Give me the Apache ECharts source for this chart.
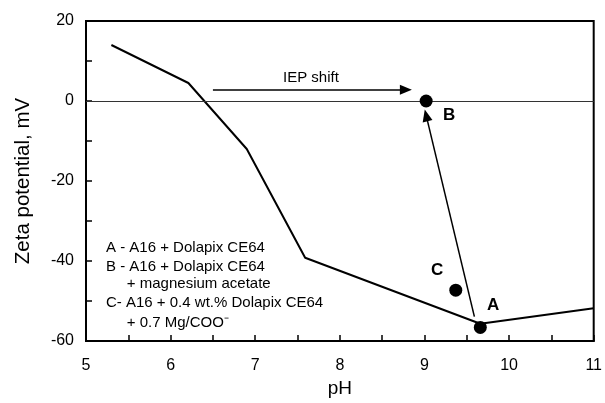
<!DOCTYPE html>
<html>
<head>
<meta charset="utf-8">
<script src="https://cdn.jsdelivr.net/npm/echarts@6/dist/echarts.min.js"></script>
<style>
  html, body { margin: 0; padding: 0; background: #fff; }
  #chart { width: 605px; height: 403px; }
</style>
</head>
<body>
<div id="chart"></div>
<script>
// curve: A16 + Dolapix CE64 vs pH
const curvePH = [5.3, 6.21, 6.9, 7.59, 9.66, 11];
const curveZeta = [14, 4.5, -12, -39.2, -55.7, -51.8];

// single measurements
const pointNames = ["A", "B", "C"];
const pointPH = [9.66, 9.02, 9.37];
const pointZeta = [-56.6, 0, -47.3];

// arrows (data units): [startPH, startZeta, endPH, endZeta]
const arrowIEP = [6.5, 2.8, 8.78, 2.8];
const arrowAB = [9.59, -53.9, 9.02, -3.6];

const legendLines = [
    "A - A16 + Dolapix CE64",
    "B - A16 + Dolapix CE64",
    "     + magnesium acetate",
    "C- A16 + 0.4 wt.% Dolapix CE64",
    "     + 0.7 Mg/COO\u207B"
];

const font = "Liberation Sans, Arial, sans-serif";
const chart = echarts.init(document.getElementById("chart"));

const axisCommon = {
    axisLine: { show: true, onZero: false, lineStyle: { color: "#000", width: 2 } },
    axisTick: { show: true, inside: true, length: 6, lineStyle: { color: "#000", width: 1.5 } },
    minorTick: { show: true, splitNumber: 2, length: 6, lineStyle: { color: "#000", width: 1.5 } },
    splitLine: { show: false },
    axisLabel: { color: "#000", fontSize: 16, fontFamily: font }
};

function arrow(a) {
    return [{ coord: [a[0], a[1]] }, { coord: [a[2], a[3]] }];
}

chart.setOption({
    animation: false,
    backgroundColor: "#fff",
    grid: { left: 86, right: 10, top: 21, bottom: 60, show: true, borderColor: "#000", borderWidth: 2 },
    xAxis: {
        ...axisCommon,
        type: "value",
        min: 5, max: 11, interval: 1,
        axisLabel: { ...axisCommon.axisLabel, margin: 17 },
        name: "pH",
        nameLocation: "middle",
        nameGap: 38,
        nameTextStyle: { color: "#000", fontSize: 19, fontFamily: font }
    },
    yAxis: {
        ...axisCommon,
        type: "value",
        min: -60, max: 20, interval: 20,
        axisLabel: { ...axisCommon.axisLabel, margin: 12 },
        name: "Zeta potential, mV",
        nameLocation: "middle",
        nameGap: 52,
        nameTextStyle: { color: "#000", fontSize: 20.5, fontFamily: font }
    },
    series: [
        {
            type: "line",
            data: curvePH.map((x, i) => [x, curveZeta[i]]),
            symbol: "none",
            lineStyle: { color: "#000", width: 2 },
            markLine: {
                silent: true,
                symbol: "none",
                label: { show: false },
                lineStyle: { color: "#333", width: 1, type: "solid" },
                data: [{ yAxis: 0 }]
            }
        },
        {
            type: "line",
            data: [],
            markLine: {
                silent: true,
                symbol: ["none", "triangle"],
                symbolSize: [10, 12],
                label: { show: false },
                lineStyle: { color: "#000", width: 1.5, type: "solid" },
                data: [arrow(arrowIEP), arrow(arrowAB)]
            }
        },
        {
            type: "scatter",
            symbol: "circle",
            symbolSize: 13,
            itemStyle: { color: "#000", opacity: 1 },
            data: pointPH.map((x, i) => [x, pointZeta[i]]),
            z: 5
        }
    ],
    graphic: [
        { type: "text", left: 283, top: 70, style: { text: "IEP shift", font: "15px " + font, fill: "#000" } },
        { type: "text", left: 443, top: 107, style: { text: pointNames[1], font: "bold 17px " + font, fill: "#000" } },
        { type: "text", left: 431, top: 262, style: { text: pointNames[2], font: "bold 17px " + font, fill: "#000" } },
        { type: "text", left: 487, top: 297, style: { text: pointNames[0], font: "bold 17px " + font, fill: "#000" } },
        ...legendLines.map((t, i) => ({
            type: "text",
            left: 106,
            top: [240, 259, 276, 295, 315][i],
            style: { text: t, font: "15px " + font, fill: "#000", whiteSpace: "pre" }
        }))
    ]
});
</script>
</body>
</html>
